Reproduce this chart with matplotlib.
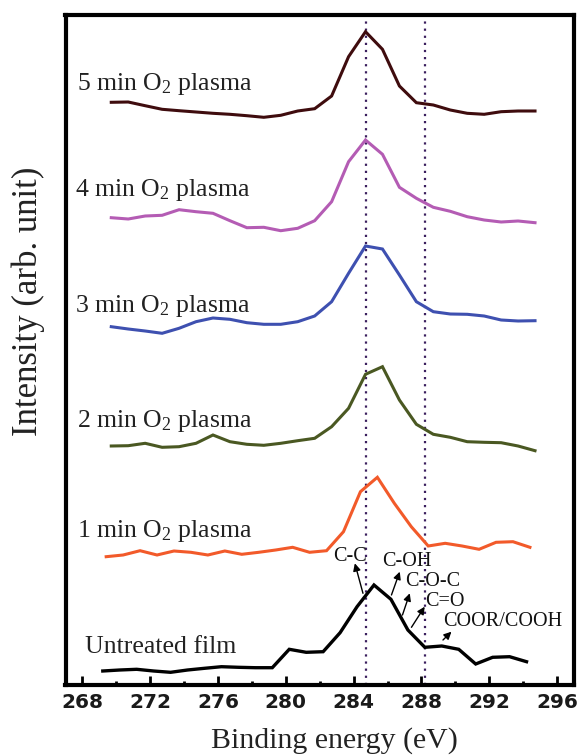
import numpy as np
import matplotlib
matplotlib.use("Agg")
import matplotlib.pyplot as plt

# ---------------- data ----------------
labels = ["5 min O$_\\mathrm{2}$ plasma", "4 min O$_\\mathrm{2}$ plasma", "3 min O$_\\mathrm{2}$ plasma",
          "2 min O$_\\mathrm{2}$ plasma", "1 min O$_\\mathrm{2}$ plasma", "Untreated film"]
colors = ["#3f0c0e", "#b45cb4", "#3e50b0", "#4a5822", "#f25a2a", "#000000"]
starts = [269.7, 269.7, 269.7, 269.7, 269.4, 269.2]
offsets = [560, 450, 340, 230, 120, 0]

s5 = [21.7, 22, 18.3, 14.7, 13.3, 12, 10.7, 9.7, 8.3, 6.7, 8.7, 13, 15.3, 28, 67.3, 92.3,
      74.7, 38, 21.3, 19, 14, 10.7, 9.7, 12.3, 13, 13]
s4 = [16.3, 15, 18, 18.7, 24.3, 22.3, 20.7, 13.3, 6.3, 6.7, 3.3, 5.7, 13.3, 32.3, 72.3, 94,
      79.7, 46.7, 35.7, 26.7, 22.7, 17.3, 14, 12, 13, 11.3]
s3 = [17.3, 15, 13, 10.7, 15.7, 22.3, 26, 24.7, 21.3, 19.7, 19.7, 22.3, 28, 42.3, 70.7, 98,
      95, 69, 42.3, 32.3, 30, 29.7, 28, 24, 23, 23.3]
s2 = [8, 8.3, 10.7, 6.7, 7.3, 10.7, 19, 12.3, 9.7, 8.7, 10.7, 13.3, 15.7, 27.3, 45.7, 79.7,
      87.3, 54, 29.7, 19.7, 16.7, 12.3, 11.7, 11.3, 8, 3.3]
s1 = [7.3, 9, 13.3, 9, 13, 11.7, 9, 13, 9.7, 11.7, 14, 16.7, 11.7, 13.3, 32.3, 72.3, 86.7,
      60.7, 37.3, 18, 20.7, 18, 14.7, 21.7, 22.3, 16.7]
s0 = [13, 14, 14.7, 13, 11.7, 14, 15.7, 17.3, 16.7, 16.3, 16.3, 34.7, 31.7, 32.3, 51.3, 77.3,
      99, 84.7, 54, 36.7, 38, 34.7, 20, 26.7, 27.3, 22.3]
series = [s5, s4, s3, s2, s1, s0]
step_ev = 1.0

ref_lines = [284.75, 288.2]

ann_texts = ["C-C", "C-OH", "C-O-C", "C=O", "COOR/COOH"]
ann_text_xy = [(283.77, 127.3), (287.15, 122.3), (288.68, 102.3), (289.37, 82.3), (292.81, 63)]
ann_tail_xy = [(284.55, 90.7), (286.23, 89), (286.88, 69), (287.41, 56.7), (289.27, 44)]
ann_head_xy = [(284.07, 120.7), (286.72, 112.3), (287.31, 90.7), (288.19, 77.3), (289.77, 52.3)]

label_pos = [(267.65, 594), (267.55, 488.3), (267.55, 372.3), (267.65, 257.3), (267.65, 146.7),
             (268.14, 30.7)]

xticks = np.arange(268, 297, 4)
xminor = np.arange(270, 297, 4)

# ---------------- figure ----------------
plt.rcParams['mathtext.fontset'] = 'custom'
plt.rcParams['mathtext.rm'] = 'Liberation Serif'
plt.rcParams['mathtext.it'] = 'Liberation Serif'

W, H = 579, 756
fig = plt.figure(figsize=(W / 100, H / 100), dpi=100)
L, R, T, B = 65.5, 574, 15, 684.5
ax = fig.add_axes([L / W, (H - B) / H, (R - L) / W, (B - T) / H])

for s, c, x0, off in zip(series, colors, starts, offsets):
    e = x0 + step_ev * np.arange(len(s))
    lw = 2.4 if c == "#000000" else 2.2
    ax.plot(e, np.array(s) + off, color=c, lw=lw, solid_joinstyle='miter', zorder=3)

for xv in ref_lines:
    ax.axvline(xv, color="#3b1f5e", lw=1.6, linestyle=(0, (1, 2.2)), zorder=2)

for lab, (lx, ly) in zip(labels, label_pos):
    ax.text(lx, ly, lab, family="Liberation Serif", fontsize=18.5, ha="left", va="baseline",
            color="#222222")

for t, txy, tail, head in zip(ann_texts, ann_text_xy, ann_tail_xy, ann_head_xy):
    ax.text(txy[0], txy[1], t, family="Liberation Serif", fontsize=14.5, ha="center",
            va="center", color="#111111", zorder=4)
    ax.annotate("", xy=head, xytext=tail,
                arrowprops=dict(arrowstyle="-|>", color="black", lw=1.0, mutation_scale=11,
                                shrinkA=0, shrinkB=0), zorder=4)

ax.set_xlim(267, 297)
ax.set_ylim(-0.5, 669)
ax.set_yticks([])
ax.set_xticks(xticks)
ax.set_xticks(xminor, minor=True)
ax.tick_params(axis='x', which='major', direction='in', length=6.5, width=2, pad=6,
               labelsize=14.5)
ax.tick_params(axis='x', which='minor', direction='in', length=3, width=2)
for lbl in ax.get_xticklabels():
    lbl.set_fontweight('bold')
    lbl.set_family('DejaVu Sans')
    lbl.set_color('#1a1a1a')
for sp in ax.spines.values():
    sp.set_linewidth(3)

fig.text(334 / W, (H - 748) / H, "Binding energy (eV)", family="Liberation Serif", fontsize=21.5,
         ha="center", va="baseline", color="#222222")
fig.text(28 / W, (H - 301) / H, "Intensity (arb. unit)", family="Liberation Serif", fontsize=25,
         ha="center", va="center", rotation=90, color="#222222")

fig.savefig("out.png", dpi=100)
